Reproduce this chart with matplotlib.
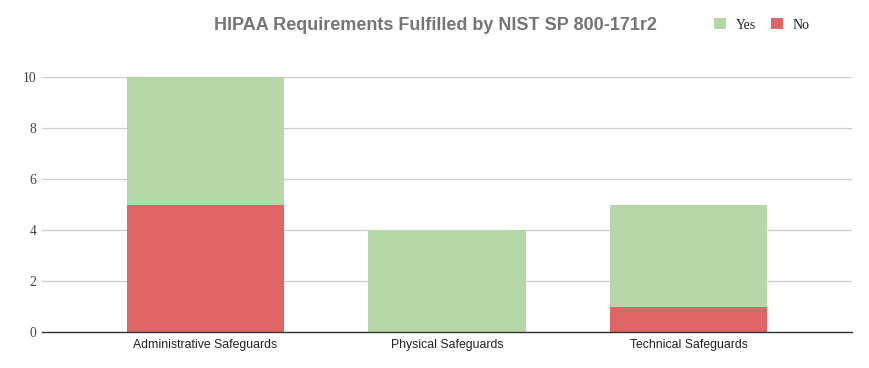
import matplotlib.pyplot as plt
import numpy as np

# chart data
categories = ['Administrative Safeguards', 'Physical Safeguards', 'Technical Safeguards']
no_counts = [5, 0, 1]
yes_counts = [5, 4, 4]
yticks = [0, 2, 4, 6, 8, 10]

green = '#b6d7a8'
red = '#e06666'

fig = plt.figure(figsize=(8.7, 3.68), dpi=100)
ax = fig.add_axes([42 / 870, 36 / 368, 810 / 870, 255 / 368])

x = np.arange(len(categories))
ax.bar(x, no_counts, width=0.65, color=red, label='No', zorder=2)
ax.bar(x, yes_counts, width=0.65, bottom=no_counts, color=green, label='Yes', zorder=2)

ax.set_xlim(-0.675, 2.675)
ax.set_ylim(0, 10)
ax.set_yticks(yticks)
ax.set_xticks(x)
ax.set_xticklabels(categories, fontfamily='Liberation Sans', fontsize=8.8, color='#222222')
for lbl in ax.get_yticklabels():
    lbl.set_fontfamily('Liberation Serif')
    lbl.set_fontsize(9.8)
    lbl.set_color('#444444')
ax.tick_params(axis='both', length=0)
ax.tick_params(axis='y', pad=4)
ax.tick_params(axis='x', pad=5)

ax.grid(axis='y', color='#cccccc', linewidth=0.9, zorder=0)
for s in ['top', 'right', 'left']:
    ax.spines[s].set_visible(False)
ax.spines['bottom'].set_color('#333333')
ax.spines['bottom'].set_linewidth(1.0)
ax.spines['bottom'].set_zorder(3)

fig.text(435 / 870, 1 - 25 / 368, 'HIPAA Requirements Fulfilled by NIST SP 800-171r2',
         ha='center', va='center', fontsize=13, fontweight='bold',
         color='#757575', fontfamily='Liberation Sans')

handles, labels = ax.get_legend_handles_labels()
fig.legend(handles[::-1], labels[::-1], loc='center left',
           bbox_to_anchor=(702 / 870, 1 - 25 / 368), ncol=2, frameon=False,
           prop={'family': 'Liberation Serif', 'size': 10},
           handlelength=0.8, handleheight=0.8, handletextpad=0.75,
           columnspacing=1.1, labelcolor='#222222')

plt.savefig('out.png', dpi=100)
